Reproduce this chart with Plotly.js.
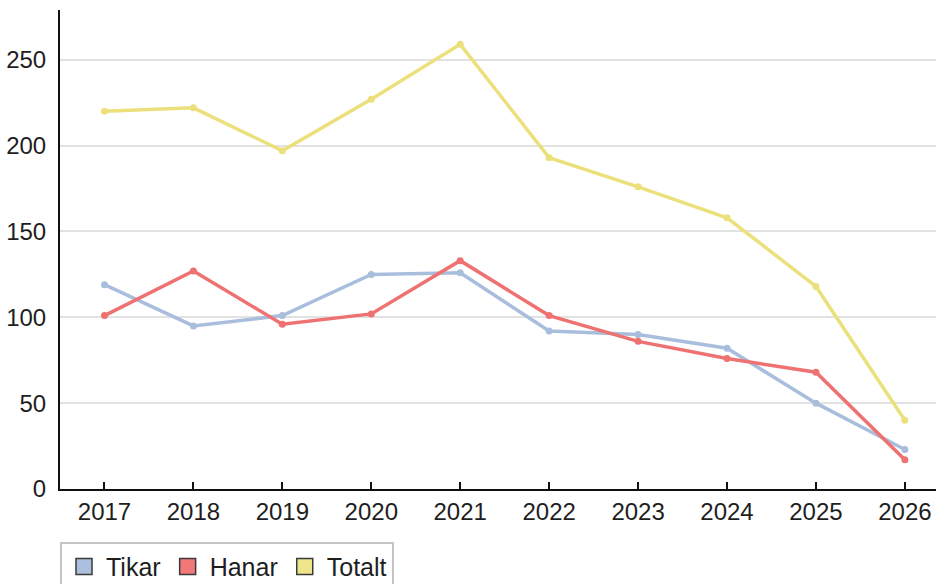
<!DOCTYPE html>
<html>
<head>
<meta charset="utf-8">
<script src="https://cdn.plot.ly/plotly-3.0.1.min.js"></script>
<style>html,body{margin:0;padding:0;background:#fff;}#chart{width:936px;height:584px;}</style>
</head>
<body>
<div id="chart"></div>
<script>
const years = ["2017","2018","2019","2020","2021","2022","2023","2024","2025","2026"];
const tikar = [119, 95, 101, 125, 126, 92, 90, 82, 50, 23];
const hanar = [101, 127, 96, 102, 133, 101, 86, 76, 68, 17];
const totalt = [220, 222, 197, 227, 259, 193, 176, 158, 118, 40];
const seriesNames = ["Tikar", "Hanar", "Totalt"];
const lineColors = ["#a9bedd", "#ee7272", "#ece07c"];
const swatchColors = ["#aac0de", "#f07878", "#eee58a"];
const yTicks = [0, 50, 100, 150, 200, 250];

const FONT = '"Liberation Sans", Arial, sans-serif';
const FS = 24;
const values = [tikar, hanar, totalt];
const traces = [];
values.forEach((v, i) => {
  traces.push({
    type: 'scatter', mode: 'lines+markers', x: years, y: v,
    name: seriesNames[i], showlegend: false,
    line: {color: lineColors[i], width: 3.5},
    marker: {color: lineColors[i], size: 7}
  });
});
values.forEach((v, i) => {
  traces.push({
    type: 'scatter', mode: 'markers', x: [null], y: [null],
    name: seriesNames[i], showlegend: true,
    marker: {symbol: 'square', size: 16, color: swatchColors[i], line: {color: '#3a3a3a', width: 1.5}}
  });
});

const layout = {
  width: 936, height: 584,
  margin: {l: 60, r: 0, t: 10, b: 94.5, autoexpand: false},
  paper_bgcolor: '#fff', plot_bgcolor: '#fff',
  font: {family: FONT, size: FS, color: '#1e1e1e'},
  showlegend: true,
  xaxis: {
    type: 'category', range: [-0.5, 9.35],
    showline: true, linecolor: '#111', linewidth: 2,
    ticks: 'inside', ticklen: 7, tickwidth: 2, tickcolor: '#111',
    showgrid: false, zeroline: false,
    tickfont: {family: FONT, size: FS, color: '#1e1e1e'}
  },
  yaxis: {
    range: [0, 279], tickvals: yTicks, ticktext: yTicks.map(String),
    showline: true, linecolor: '#111', linewidth: 2,
    ticks: '', showgrid: true, gridcolor: '#e2e2e2', gridwidth: 2,
    zeroline: false, ticklabelstandoff: 7,
    tickfont: {family: FONT, size: FS, color: '#1e1e1e'}
  },
  legend: {
    orientation: 'h', x: 0, xanchor: 'left', y: -0.11, yanchor: 'top',
    bordercolor: '#c4c4c4', borderwidth: 2, bgcolor: '#fff',
    font: {family: FONT, size: 25, color: '#1e1e1e'},
    itemsizing: 'trace', itemwidth: 34, tracegroupgap: 0
  }
};
Plotly.newPlot('chart', traces, layout, {staticPlot: true, displayModeBar: false});
</script>
</body>
</html>
